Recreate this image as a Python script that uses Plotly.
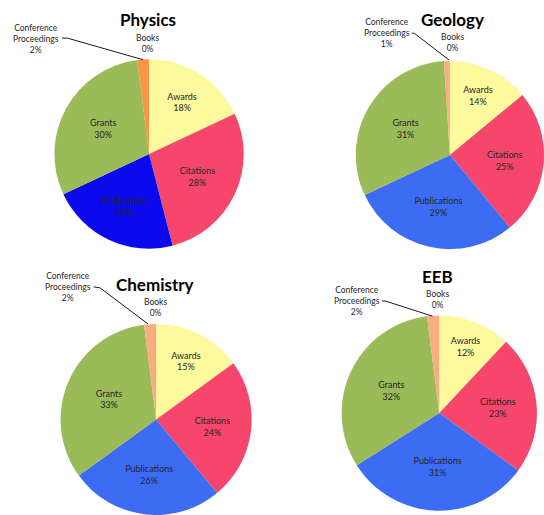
import plotly.graph_objects as go

categories = ["Awards", "Citations", "Publications", "Grants", "Conference Proceedings", "Books"]
departments = ["Physics", "Geology", "Chemistry", "EEB"]
physics = [18, 28, 22, 30, 2, 0]
geology = [14, 25, 29, 31, 1, 0]
chemistry = [15, 24, 26, 33, 2, 0]
eeb = [12, 23, 31, 32, 2, 0]
series = [physics, geology, chemistry, eeb]

FONT = "Lato"
TXT = "#262626"

colors_physics = ["#FCFA9C", "#F6466B", "#0A0AEC", "#9BBB59", "#F79646", "#F79646"]
colors_other = ["#FCFA9C", "#F6466B", "#3B6CF3", "#9BBB59", "#FAAD82", "#FAAD82"]

# layout: pie domains (paper), title positions, small-slice label placement
layout_info = [
    dict(x=[0.100, 0.448], y=[0.516, 0.886], title=(0.272, 0.962),
         cp=(0.067, 0.925), books=(0.272, 0.915),
         line=[(0.114, 0.926), (0.124, 0.926), (0.263, 0.884)]),
    dict(x=[0.654, 1.0], y=[0.514, 0.884], title=(0.831, 0.962),
         cp=(0.711, 0.935), books=(0.831, 0.917),
         line=[(0.757, 0.936), (0.762, 0.935), (0.825, 0.884)]),
    dict(x=[0.110, 0.464], y=[0.000, 0.371], title=(0.285, 0.448),
         cp=(0.125, 0.442), books=(0.285, 0.403),
         line=[(0.172, 0.443), (0.184, 0.441), (0.272, 0.371)]),
    dict(x=[0.628, 0.987], y=[0.004, 0.392], title=(0.805, 0.464),
         cp=(0.656, 0.415), books=(0.805, 0.418),
         line=[(0.702, 0.416), (0.710, 0.415), (0.795, 0.386)]),
]

fig = go.Figure()
annotations = []
shapes = []
for i, (dept, vals) in enumerate(zip(departments, series)):
    info = layout_info[i]
    cols = colors_physics if i == 0 else colors_other
    tt = ["%{label}<br>%{value}%"] * 4 + ["", ""]
    fig.add_trace(go.Pie(
        labels=categories, values=vals, sort=False, direction="clockwise",
        rotation=0, marker=dict(colors=cols, line=dict(width=0)),
        texttemplate=tt, textposition="inside", insidetextorientation="horizontal",
        textfont=dict(family=FONT, size=9, color=TXT),
        domain=dict(x=info["x"], y=info["y"]), hoverinfo="skip",
        showlegend=False,
    ))
    annotations.append(dict(
        x=info["title"][0], y=info["title"][1], xref="paper", yref="paper",
        xanchor="center", yanchor="middle",
        text="<b>%s</b>" % dept, showarrow=False,
        font=dict(family=FONT, size=17, color="#000000")))
    annotations.append(dict(
        x=info["cp"][0], y=info["cp"][1], xref="paper", yref="paper",
        xanchor="center", yanchor="middle",
        text="%s<br>%d%%" % (categories[4].replace(" ", "<br>"), vals[4]),
        showarrow=False, font=dict(family=FONT, size=8.5, color=TXT)))
    annotations.append(dict(
        x=info["books"][0], y=info["books"][1], xref="paper", yref="paper",
        xanchor="center", yanchor="middle",
        text="%s<br>%d%%" % (categories[5], vals[5]),
        showarrow=False, font=dict(family=FONT, size=8.5, color=TXT)))
    pts = info["line"]
    path = "M %f %f L %f %f L %f %f" % (pts[0][0], pts[0][1], pts[1][0], pts[1][1], pts[2][0], pts[2][1])
    shapes.append(dict(type="path", path=path, xref="paper", yref="paper",
                       line=dict(color="#1a1a1a", width=1)))

fig.update_layout(
    width=544, height=515, margin=dict(l=0, r=0, t=0, b=0),
    paper_bgcolor="white", plot_bgcolor="white",
    annotations=annotations, shapes=shapes,
    font=dict(family=FONT),
    uniformtext=dict(minsize=9, mode="show"),
)
fig.write_html("out.html", config={"displayModeBar": False},
               post_script="document.body.style.margin='0';document.body.style.overflow='hidden';")
